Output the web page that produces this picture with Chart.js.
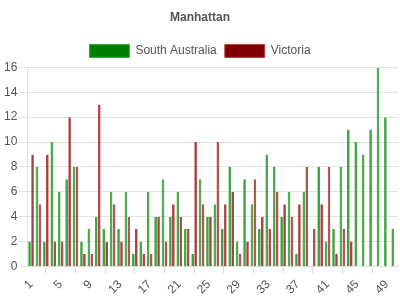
<!DOCTYPE html>
<html>
<head>
<meta charset="utf-8">
<script src="https://cdn.jsdelivr.net/npm/chart.js@4/dist/chart.umd.min.js"></script>
<style>
  body { margin: 0; background: #fff; }
  #wrap { width: 400px; height: 300px; }
</style>
</head>
<body>
<div id="wrap"><canvas id="chart"></canvas></div>
<script>
// data
let labels = [];
for (let i = 1; i <= 50; i++) labels.push(String(i));

let southAustralia = [2, 8, 2, 10, 6, 7, 8, 2, 3, 4, 3, 6, 3, 6, 1, 2, 6, 4, 7, 4,
    6, 3, 1, 7, 4, 5, 3, 8, 2, 7, 5, 3, 9, 8, 4, 6, 1, 6, 0, 8,
    2, 3, 8, 11, 10, 9, 11, 16, 12, 3];
let victoria = [9, 5, 9, 2, 2, 12, 8, 1, 1, 13, 2, 5, 2, 4, 3, 1, 1, 4, 2, 5,
    4, 3, 10, 5, 4, 10, 5, 6, 1, 2, 7, 4, 3, 6, 5, 4, 5, 8, 3, 5,
    8, 1, 3, 2, 0, 0, 0, 0, 0, 0];
let yTicks = [0, 2, 4, 6, 8, 10, 12, 14, 16];

Chart.defaults.font.family = "'Liberation Sans', Arial, sans-serif";
Chart.defaults.font.size = 12;
Chart.defaults.color = "#555";

let ctx = document.getElementById("chart").getContext("2d");
new Chart(ctx, {
    type: "bar",
    data: {
        labels: labels,
        datasets: [{
            label: "South Australia",
            data: southAustralia,
            backgroundColor: "#008000",
            borderColor: "#3ea63e",
            borderWidth: 1
        }, {
            label: "Victoria",
            data: victoria,
            backgroundColor: "#800000",
            borderColor: "#b04848",
            borderWidth: 1
        }]
    },
    options: {
        responsive: true,
        maintainAspectRatio: false,
        animation: false,
        layout: { padding: { left: 2, right: 2, top: 3, bottom: 0 } },
        plugins: {
            title: {
                display: true,
                text: "Manhattan",
                color: "#555",
                font: { size: 12, weight: "bold" },
                padding: { top: 7, bottom: 12 }
            },
            legend: {
                labels: {
                    boxWidth: 40,
                    boxHeight: 13,
                    padding: 8,
                    color: "#555"
                }
            },
            tooltip: { enabled: false }
        },
        scales: {
            x: {
                // drop the extra right padding left for rotated labels
                afterFit: function (axis) { axis.paddingRight = 0; },
                grid: {
                    drawOnChartArea: false,
                    offset: false,
                    tickLength: 8,
                    color: function (c) { return c.index % 4 == 2 ? "#dddddd" : "rgba(0,0,0,0)"; }
                },
                border: { color: "#dddddd" },
                ticks: {
                    autoSkip: false,
                    maxRotation: 45,
                    minRotation: 45,
                    color: "#555",
                    callback: function (v, i) { return i % 4 == 0 ? labels[i] : ""; }
                }
            },
            y: {
                min: 0,
                max: 16,
                afterBuildTicks: function (axis) { axis.ticks = yTicks.map(v => ({ value: v })); },
                grid: { color: "#e3e3e3", tickLength: 8 },
                border: { color: "#e3e3e3" },
                ticks: { color: "#555", padding: 2 }
            }
        }
    }
});
</script>
</body>
</html>
